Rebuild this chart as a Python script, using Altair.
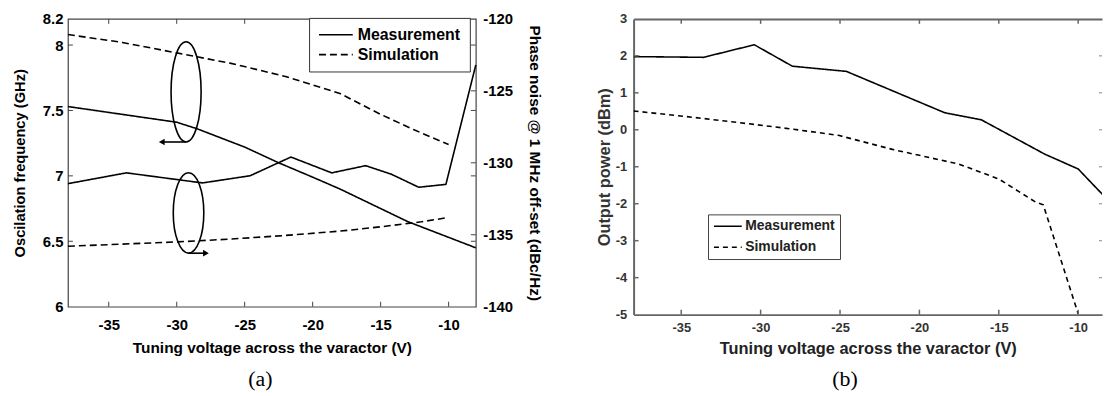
import altair as alt
import pandas as pd

# ---------------- Panel (a) data ----------------
FREQ_MEAS_V = [-38, -34, -30, -28.5, -25, -22.5, -20, -18, -16, -13, -10, -8]
FREQ_MEAS_GHZ = [7.53, 7.47, 7.41, 7.36, 7.22, 7.10, 6.99, 6.90, 6.80, 6.65, 6.53, 6.45]
FREQ_SIM_V = [-38, -34, -30, -26, -22, -18, -15, -12.5, -10]
FREQ_SIM_GHZ = [8.08, 8.02, 7.94, 7.86, 7.76, 7.63, 7.47, 7.35, 7.24]
PN_MEAS_V = [-38, -33.7, -28.1, -24.6, -21.6, -18.6, -16.1, -14.2, -12.2, -10.2, -8]
PN_MEAS_DBC = [-131.45, -130.7, -131.4, -130.9, -129.6, -130.7, -130.2, -130.8, -131.7, -131.5, -123.2]
PN_SIM_V = [-38, -34, -30, -26, -22, -18, -15, -12, -10]
PN_SIM_DBC = [-135.8, -135.65, -135.5, -135.3, -135.05, -134.75, -134.45, -134.1, -133.8]

# ---------------- Panel (b) data ----------------
POW_MEAS_V = [-38, -33.6, -30.4, -28.0, -24.6, -18.4, -16.1, -12.1, -10.0, -8.0]
POW_MEAS_DBM = [1.98, 1.96, 2.30, 1.72, 1.58, 0.46, 0.27, -0.66, -1.06, -1.96]
POW_SIM_V = [-38, -34.1, -30.3, -28.2, -25.1, -21.7, -17.5, -15.0, -12.7, -12.2, -11.2, -10.0]
POW_SIM_DBM = [0.51, 0.33, 0.14, 0.03, -0.15, -0.53, -0.93, -1.33, -1.95, -2.03, -3.37, -4.98]

SERIES = ["Measurement", "Simulation"]
X_TICKS = [-35, -30, -25, -20, -15, -10]
FREQ_TICKS = [6, 6.5, 7, 7.5, 8, 8.2]
FREQ_MINOR = [6.5, 7, 7.5, 8]
PN_TICKS = [-140, -135, -130, -125, -120]
PN_MINOR = [-135, -130, -125]
POW_TICKS = [-5, -4, -3, -2, -1, 0, 1, 2, 3]
POW_MINOR = [-4, -3, -2, -1, 0, 1, 2]

# annotation (ellipses + arrows) in panel (a), data coordinates
ELL_V = [-29.31, -29.13]
ELL_F = [7.642, 6.717]
ARR_V1 = [-29.31, -29.1]
ARR_V2 = [-31.1, -27.85]
ARR_F = [7.259, 6.409]

SANS = "Liberation Sans"
SERIF = "Liberation Serif"
PLAIN = "datum.value + ''"   # hyphen-minus labels

def series_df(v1, y1, v2, y2, col):
    return pd.DataFrame({
        "V": v1 + v2,
        col: y1 + y2,
        "series": [SERIES[0]] * len(v1) + [SERIES[1]] * len(v2),
    })

df_freq = series_df(FREQ_MEAS_V, FREQ_MEAS_GHZ, FREQ_SIM_V, FREQ_SIM_GHZ, "f")
df_pn = series_df(PN_MEAS_V, PN_MEAS_DBC, PN_SIM_V, PN_SIM_DBC, "pn")
df_pow = series_df(POW_MEAS_V, POW_MEAS_DBM, POW_SIM_V, POW_SIM_DBM, "p")

# ================= Panel (a) =================
W_A, H_A = 411, 290
xs_a = alt.Scale(domain=[-38, -8], nice=False, zero=False)
fs = alt.Scale(domain=[6, 8.2], nice=False, zero=False)
ps = alt.Scale(domain=[-140, -120], nice=False, zero=False)
TICK_A = "#444"

AX_XA = alt.Axis(
    values=X_TICKS, labelExpr=PLAIN, title="Tuning voltage across the varactor (V)", ticks=False,
    domain=False, grid=False, labelPadding=11, titlePadding=8,
    labelFont=SANS, labelFontSize=15, labelFontWeight="bold", labelColor="black",
    titleFont=SANS, titleFontSize=15.5, titleFontWeight="bold", titleColor="black")
AX_F = alt.Axis(
    orient="left", values=FREQ_TICKS, labelExpr=PLAIN, ticks=False, domain=False, grid=False,
    labelPadding=5, titlePadding=15, title="Oscilation frequency (GHz)",
    labelFont=SANS, labelFontSize=15, labelFontWeight="bold", labelColor="black",
    titleFont=SANS, titleFontSize=14.8, titleFontWeight="bold", titleColor="black")
AX_PN = alt.Axis(
    orient="right", values=PN_TICKS, labelExpr=PLAIN, ticks=False, domain=False, grid=False,
    labelPadding=7, titlePadding=14, title="Phase noise @ 1 MHz off-set (dBc/Hz)",
    labelFont=SANS, labelFontSize=15, labelFontWeight="bold", labelColor="black",
    titleFont=SANS, titleFontSize=15.5, titleFontWeight="bold", titleColor="black")

def XA(field="V:Q"):
    return alt.X(field, scale=xs_a, axis=AX_XA)

def YF():
    return alt.Y("f:Q", scale=fs, axis=AX_F)

def YPN():
    return alt.Y("pn:Q", scale=ps, axis=AX_PN)

# legend line symbol: 34 px long, starting at the left of a 14 px symbol box
SYM_A = "M -1 0 H 3.857"
dash_a = alt.StrokeDash("series:N", scale=alt.Scale(domain=SERIES, range=[[1, 0], [7, 4]]),
    legend=alt.Legend(title=None, orient="none", legendX=243, legendY=-1, direction="vertical",
                      strokeColor="#333", fillColor="white", padding=9, cornerRadius=0,
                      symbolType=SYM_A, symbolSize=196, symbolStrokeWidth=1.6,
                      symbolStrokeColor="black", labelFont=SANS, labelFontSize=16,
                      labelFontWeight="bold", labelColor="black", labelOffset=24,
                      rowPadding=4, labelLimit=300))

freq_lines = alt.Chart(df_freq).mark_line(color="black", strokeWidth=1.6).encode(
    x=XA(), y=YF(), strokeDash=dash_a)

df_xt = pd.DataFrame({"V": X_TICKS})
df_ft = pd.DataFrame({"f": FREQ_MINOR})
xt_bot_a = alt.Chart(df_xt).mark_rule(color=TICK_A).encode(x=XA(), y=alt.value(H_A), y2=alt.value(H_A - 5))
xt_top_a = alt.Chart(df_xt).mark_rule(color=TICK_A).encode(x=XA(), y=alt.value(0), y2=alt.value(5))
ft_left = alt.Chart(df_ft).mark_rule(color=TICK_A).encode(y=YF(), x=alt.value(0), x2=alt.value(5))
ft_right = alt.Chart(df_ft).mark_rule(color=TICK_A).encode(y=YF(), x=alt.value(W_A - 5), x2=alt.value(W_A))

ELL1 = "M -0.3 0 A 0.3 1 0 1 0 0.3 0 A 0.3 1 0 1 0 -0.3 0 Z"
ELL2 = "M -0.38 0 A 0.38 1 0 1 0 0.38 0 A 0.38 1 0 1 0 -0.38 0 Z"
ell1 = alt.Chart(pd.DataFrame({"V": [ELL_V[0]], "f": [ELL_F[0]]})).mark_point(
    shape=ELL1, size=10200, filled=False, color="black", strokeWidth=1.6, opacity=1).encode(
    x=XA(), y=YF())
ell2 = alt.Chart(pd.DataFrame({"V": [ELL_V[1]], "f": [ELL_F[1]]})).mark_point(
    shape=ELL2, size=6561, filled=False, color="black", strokeWidth=1.6, opacity=1).encode(
    x=XA(), y=YF())
df_arr = pd.DataFrame({"V": ARR_V1, "V2": ARR_V2, "f": ARR_F})
arrows = alt.Chart(df_arr).mark_rule(color="black", strokeWidth=1.6).encode(
    x=XA(), x2="V2:Q", y=YF())
head_l = alt.Chart(df_arr.iloc[[0]]).mark_point(shape="triangle-left", filled=True, size=45, color="black", opacity=1).encode(
    x=XA("V2:Q"), y=YF())
head_r = alt.Chart(df_arr.iloc[[1]]).mark_point(shape="triangle-right", filled=True, size=45, color="black", opacity=1).encode(
    x=XA("V2:Q"), y=YF())

cap_a = alt.Chart(pd.DataFrame({"t": ["(a)"]})).mark_text(
    font=SERIF, fontSize=22, color="black", baseline="middle", align="center").encode(
    text="t:N", x=alt.value(194), y=alt.value(363))

pn_lines = alt.Chart(df_pn).mark_line(color="black", strokeWidth=1.6).encode(
    x=XA(), y=YPN(), strokeDash=dash_a)
pt_right = alt.Chart(pd.DataFrame({"pn": PN_MINOR})).mark_rule(color=TICK_A).encode(
    y=YPN(), x=alt.value(W_A - 5), x2=alt.value(W_A))

freq_group = alt.layer(freq_lines, ft_left, ft_right, xt_bot_a, xt_top_a,
                       ell1, ell2, arrows, head_l, head_r, cap_a)
pn_group = alt.layer(pn_lines, pt_right)
panel_a = alt.layer(freq_group, pn_group).resolve_scale(y="independent").properties(
    width=W_A, height=H_A, view=alt.ViewBackground(stroke="#444", strokeWidth=1.2))

# ================= Panel (b) =================
W_B, H_B = 472, 298
xs_b = alt.Scale(domain=[-38, -8.5], nice=False, zero=False)
pws = alt.Scale(domain=[-5, 3], nice=False, zero=False)
FRAME_B = "#666"

AX_XB = alt.Axis(
    values=X_TICKS, labelExpr=PLAIN, title="Tuning voltage across the varactor (V)", ticks=False,
    domain=True, domainColor=FRAME_B, domainWidth=2, grid=False, labelPadding=7, titlePadding=6,
    labelFont=SANS, labelFontSize=13, labelFontWeight="bold", labelColor="#333",
    titleFont=SANS, titleFontSize=16.5, titleFontWeight="bold", titleColor="#222")
AX_P = alt.Axis(
    orient="left", values=POW_TICKS, labelExpr=PLAIN, ticks=False, domain=True, domainColor=FRAME_B,
    domainWidth=2, grid=False, labelPadding=7, titlePadding=3, title="Output power (dBm)",
    labelFont=SANS, labelFontSize=13, labelFontWeight="bold", labelColor="#333",
    titleFont=SANS, titleFontSize=16.5, titleFontWeight="bold", titleColor="#333")
AX_TOP = alt.Axis(orient="top", labels=False, ticks=False, domain=True,
                  domainColor=FRAME_B, domainWidth=2, grid=False, title=None)

def XB():
    return alt.X("V:Q", scale=xs_b, axis=AX_XB)

def YP():
    return alt.Y("p:Q", scale=pws, axis=AX_P)

SYM_B = "M -1 0 H 3.667"
dash_b = alt.StrokeDash("series:N", scale=alt.Scale(domain=SERIES, range=[[1, 0], [5, 4]]),
    legend=alt.Legend(title=None, orient="none", legendX=75, legendY=197, direction="vertical",
                      strokeColor="#444", fillColor="white", padding=5, cornerRadius=0,
                      symbolType=SYM_B, symbolSize=144, symbolStrokeWidth=1.5,
                      symbolStrokeColor="black", labelFont=SANS, labelFontSize=14,
                      labelFontWeight="bold", labelColor="#222", labelOffset=18.5,
                      rowPadding=7, labelLimit=300))

pow_lines = alt.Chart(df_pow).mark_line(color="black", strokeWidth=1.6, clip=True).encode(
    x=XB(), y=YP(), strokeDash=dash_b)
df_pt = pd.DataFrame({"p": POW_MINOR})
xt_bot_b = alt.Chart(df_xt).mark_rule(color=FRAME_B, strokeWidth=1.5).encode(x=XB(), y=alt.value(H_B), y2=alt.value(H_B - 5))
pt_left = alt.Chart(df_pt).mark_rule(color=FRAME_B, strokeWidth=1.5).encode(y=YP(), x=alt.value(0), x2=alt.value(5))
pt_right_b = alt.Chart(df_pt).mark_rule(color="#999", strokeWidth=1.2).encode(y=YP(), x=alt.value(W_B - 3), x2=alt.value(W_B))
cap_b = alt.Chart(pd.DataFrame({"t": ["(b)"]})).mark_text(
    font=SERIF, fontSize=22, color="black", baseline="middle", align="center").encode(
    text="t:N", x=alt.value(213), y=alt.value(363))

inner_b = alt.layer(pow_lines, xt_bot_b, pt_left, pt_right_b, cap_b)
top_b = alt.Chart(df_xt).mark_rule(color=FRAME_B, strokeWidth=1.5).encode(
    x=alt.X("V:Q", scale=xs_b, axis=AX_TOP), y=alt.value(0), y2=alt.value(5))
panel_b = alt.layer(inner_b, top_b).resolve_axis(x="independent").properties(
    width=W_B, height=H_B, view=alt.ViewBackground(stroke=None))

chart = alt.hconcat(panel_a, panel_b, spacing=159, bounds="flush").resolve_scale(
    strokeDash="independent").resolve_legend(strokeDash="independent").properties(
    padding={"left": 3.4, "top": 1.5, "right": 0, "bottom": 0}, background="white")

chart.save("out.html", embed_options={"renderer": "svg", "actions": False})
